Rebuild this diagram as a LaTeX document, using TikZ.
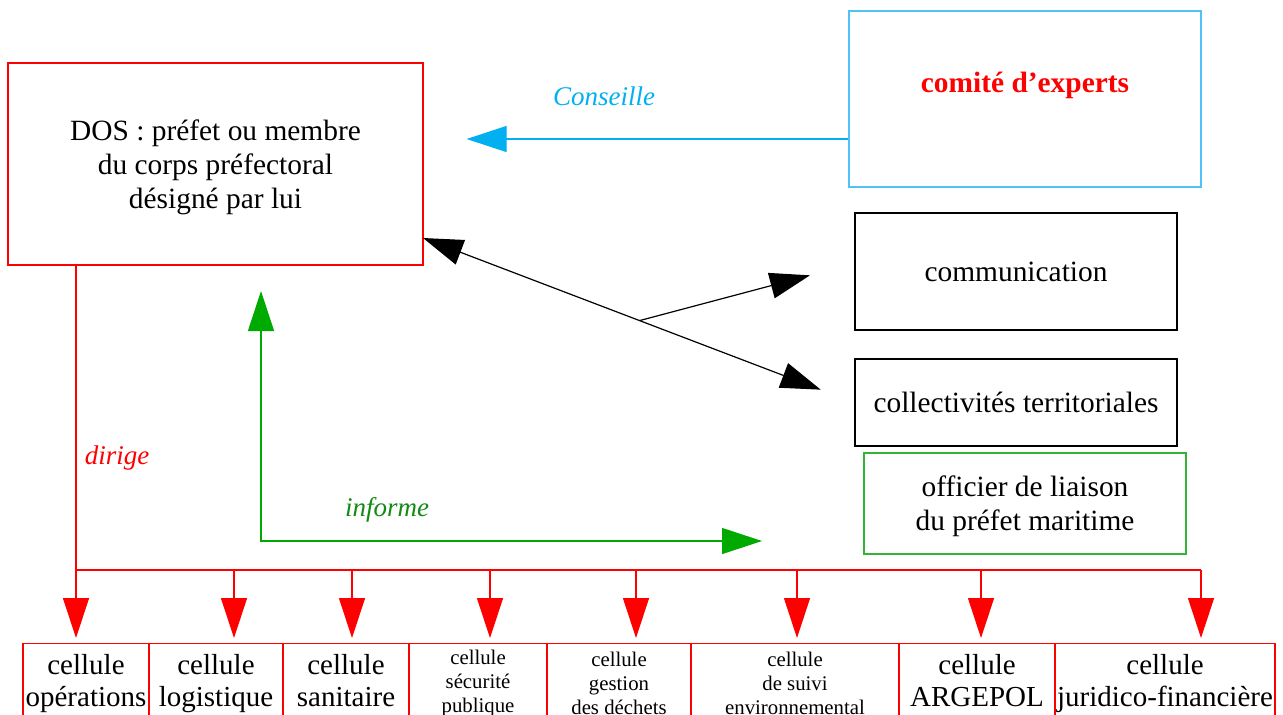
\documentclass[tikz,border=0pt]{standalone}
\usepackage{fontspec}
\setmainfont{Liberation Serif}
\usetikzlibrary{arrows.meta}

\definecolor{rouge}{HTML}{FF0000}
\definecolor{bleu}{HTML}{00B0F0}
\definecolor{bleuclair}{HTML}{4FC3F7}
\definecolor{vert}{HTML}{00AA00}
\definecolor{vertclair}{HTML}{33B533}
\definecolor{vertfonce}{HTML}{138A13}

\tikzstyle{box}=[draw=black, line width=0.6pt, inner sep=0pt, align=center, font=\fontsize{14.7}{17}\selectfont]
\tikzstyle{redbox}=[box, draw=rouge]
\tikzstyle{cell}=[box, draw=rouge, anchor=north, minimum height=40pt, font=\fontsize{14.5}{16}\selectfont]
\tikzstyle{smallcell}=[cell, font=\fontsize{10.4}{12}\selectfont]
\tikzstyle{lbl}=[font=\fontsize{13.5}{16}\selectfont\itshape]
\tikzstyle{redline}=[draw=rouge, line width=0.6pt]
\tikzstyle{redarr}=[draw=rouge, fill=rouge, line width=0.6pt, ->, shorten >=2.5pt]
\tikzstyle{bluearr}=[draw=bleu, fill=bleu, line width=0.6pt, ->]
\tikzstyle{blkarr}=[draw=black, line width=0.6pt]
\tikzstyle{grnarr}=[draw=vert, line width=0.6pt, <->]

\begin{document}
\begin{tikzpicture}[x=0.5pt, y=-0.5pt, >={Triangle[length=20pt,width=13pt]}]
  \useasboundingbox (0,0) rectangle (1283,714);
  \clip (0,0) rectangle (1283,714);

  \node [redbox, minimum width=207.5pt, minimum height=101pt, text depth=0pt] (dos) at (215.5,164) {DOS : préfet ou membre\\du corps préfectoral\\désigné par lui};
  \node [box, draw=bleuclair, minimum width=176pt, minimum height=88pt] (comite) at (1025,99) {};
  \node [font=\fontsize{14.7}{17}\selectfont\bfseries, text=rouge] (experts) at (1025,85) {comité d’experts};
  \node [box, minimum width=161pt, minimum height=58.5pt] (comm) at (1016,271.5) {communication};
  \node [box, minimum width=161pt, minimum height=43.5pt] (coll) at (1016,402.5) {collectivités territoriales};
  \node [box, draw=vertclair, minimum width=161pt, minimum height=50.5pt, text depth=0pt] (officier) at (1025,503.5) {officier de liaison\\du préfet maritime};

  \node [cell, minimum width=63pt] (c1) at (86,643) {\strut cellule\\opérations\strut};
  \node [cell, minimum width=67pt] (c2) at (216,643) {\strut cellule\\logistique\strut};
  \node [cell, minimum width=63pt] (c3) at (346,643) {\strut cellule\\sanitaire\strut};
  \node [smallcell, minimum width=69pt] (c4) at (478,643) {cellule\\sécurité\\publique};
  \node [smallcell, minimum width=72pt] (c5) at (619,643) {cellule\\gestion\\des déchets};
  \node [smallcell, minimum width=104pt] (c6) at (795,643) {cellule\\de suivi\\environnemental};
  \node [cell, minimum width=78pt] (c7) at (977,643) {\strut cellule\\ARGEPOL\strut};
  \node [cell, minimum width=110pt] (c8) at (1165,643) {\strut cellule\\juridico-financière\strut};

  % conseil
  \coordinate (cons) at ([yshift=-20pt]comite.west);
  \draw [bluearr, shorten >=21.5pt] (cons) -- (cons -| dos.east);
  \node [lbl, text=bleu] (conseille) at (604,96) {Conseille};

  % communication
  \coordinate (dosr) at (423,238);
  \draw [blkarr, <->, shorten >=18pt] (dosr) -- (coll.west) coordinate[pos=0.502] (split);
  \draw [blkarr, ->, shorten >=23pt] (split) -- ([yshift=4pt]comm.west);

  % informe
  \coordinate (infoup) at (261,291);
  \coordinate (infotip) at (762,541);
  \draw [grnarr] (infoup) |- (infotip);
  \node [lbl, text=vertfonce] (informe) at (387,510) {informe};

  % dirige
  \foreach \i/\x in {1/76, 2/234, 3/352, 4/490, 5/636, 6/797, 7/981, 8/1201}{
    \coordinate (b\i) at (\x,570);
    \draw [redarr] (b\i) -- (b\i |- c\i.north);
  }
  \draw [redline] (dos.south -| b1) -- (b1) -- (b8);
  \node [lbl, text=rouge] (dirige) at (117,458) {dirige};
\end{tikzpicture}
\end{document}
